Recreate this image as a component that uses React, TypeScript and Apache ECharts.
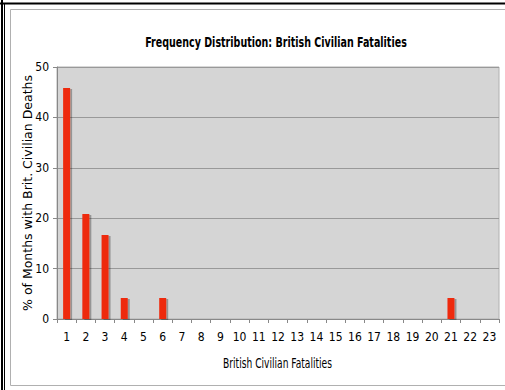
import React, { useEffect, useRef } from "react";
import * as echarts from "echarts";

const categories: string[] = [
  "1", "2", "3", "4", "5", "6", "7", "8", "9", "10", "11", "12",
  "13", "14", "15", "16", "17", "18", "19", "20", "21", "22", "23",
];
const percentValues: number[] = [
  45.83, 20.83, 16.67, 4.17, 0, 4.17, 0, 0, 0, 0, 0, 0,
  0, 0, 0, 0, 0, 0, 0, 0, 4.17, 0, 0,
];
const yTicks: number[] = [0, 10, 20, 30, 40, 50];
const titleText = "Frequency Distribution: British Civilian Fatalities";
const xName = "British Civilian Fatalities";
const yName = "% of Months with Brit. Civilian Deaths";

export default function App() {
  const ref = useRef<HTMLDivElement>(null);
  useEffect(() => {
    if (!ref.current) return;
    const chart = echarts.init(ref.current, null, { renderer: "svg" });
    chart.setOption({
      animation: false,
      backgroundColor: "#ffffff",
      graphic: [
        { type: "line", shape: { x1: 2, y1: 0, x2: 2, y2: 390 }, style: { stroke: "#000", lineWidth: 2 } },
        { type: "line", shape: { x1: 4.5, y1: 3.5, x2: 4.5, y2: 390 }, style: { stroke: "#000", lineWidth: 1 } },
        { type: "line", shape: { x1: 0, y1: 3.5, x2: 505, y2: 3.5 }, style: { stroke: "#000", lineWidth: 2 } },
        { type: "rect", shape: { x: 10.5, y: 9.5, width: 500, height: 376 }, style: { fill: "none", stroke: "#b0b0b0", lineWidth: 1 } },
        {
          type: "text", x: 276, y: 42, scaleX: 0.757,
          style: {
            text: titleText, textAlign: "center", textVerticalAlign: "middle",
            font: "bold 14px 'DejaVu Sans Condensed', sans-serif", fill: "#000",
          },
        },
        {
          type: "text", x: 277.5, y: 363, scaleX: 0.725,
          style: {
            text: xName, textAlign: "center", textVerticalAlign: "middle",
            font: "14px 'DejaVu Sans Condensed', sans-serif", fill: "#000",
          },
        },
      ],
      grid: { left: 57, right: 6, top: 67, bottom: 71, show: true, backgroundColor: "#d5d5d5", borderColor: "#b0b0b0", borderWidth: 1 },
      xAxis: {
        type: "category",
        data: categories,
        axisLine: { lineStyle: { color: "#888", width: 1 } },
        axisTick: { show: true, length: 4, lineStyle: { color: "#888" } },
        axisLabel: { interval: 0, margin: 12, color: "#000", fontSize: 12, fontFamily: "'DejaVu Sans Condensed', sans-serif" },
      },
      yAxis: {
        type: "value",
        min: 0, max: 50, interval: 10,
        name: yName,
        nameLocation: "middle",
        nameGap: 23,
        nameMoveOverlap: false,
        nameTextStyle: { fontFamily: "'DejaVu Sans', sans-serif", fontSize: 12.5, color: "#000" },
        axisLine: { show: true, lineStyle: { color: "#888", width: 1 } },
        axisTick: { show: true, length: 4, lineStyle: { color: "#888" } },
        axisLabel: {
          margin: 8, color: "#000", fontSize: 12, fontFamily: "'DejaVu Sans Condensed', sans-serif",
          formatter: (v: number) => (yTicks.includes(v) ? String(v) : ""),
        },
        splitLine: { lineStyle: { color: "#999", width: 1 } },
      },
      series: [
        {
          type: "bar",
          data: percentValues,
          barWidth: 7,
          itemStyle: { color: "#ee2c10", shadowColor: "rgba(0,0,0,0.3)", shadowOffsetX: 2, shadowOffsetY: 1, shadowBlur: 1 },
        },
      ],
    });
    return () => chart.dispose();
  }, []);
  return <div ref={ref} style={{ position: "fixed", left: 0, top: 0, width: 505, height: 390 }} />;
}
